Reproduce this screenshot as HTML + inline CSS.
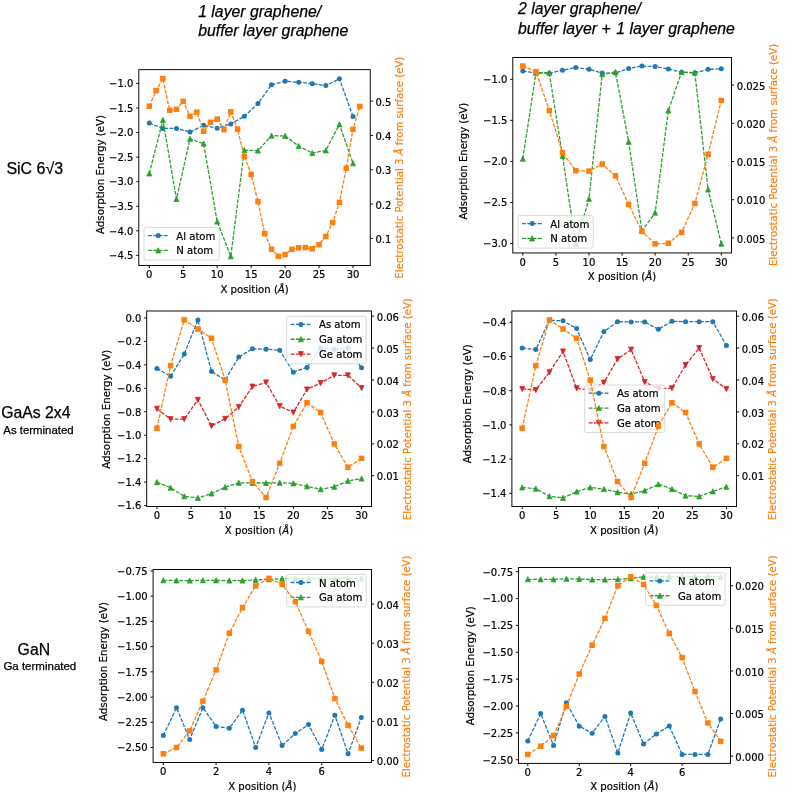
<!DOCTYPE html>
<html lang="en">
<head>
<meta charset="utf-8">
<title>Adsorption energy and electrostatic potential</title>
<style>
html,body{margin:0;padding:0;background:#fff;}
body{width:793px;height:808px;overflow:hidden;}
svg{display:block;}
</style>
</head>
<body>
<svg role="img" aria-label="Adsorption energy and electrostatic potential plots" width="793" height="808" viewBox="0 0 793 808" font-family="'DejaVu Sans', 'Liberation Sans', sans-serif" font-size="10.25" fill="#000">
<style>.mp text{stroke-width:0.2px;stroke:#000} .mp text.or{stroke:#ff7f0e}</style>
<rect width="793" height="808" fill="#fff"/>
<g font-family="'Liberation Sans', Arial, Helvetica, sans-serif" stroke="#000" stroke-width="0.25">
<g font-style="italic" font-size="15.8"><text x="198.2" y="16.9">1 layer graphene/</text><text x="198.2" y="36.1">buffer layer graphene</text>
<text x="518" y="14.1">2 layer graphene/</text><text x="518" y="33.7">buffer layer +<tspan dx="1.3"> 1 layer graphene</tspan></text></g>
<text x="6.4" y="173.6" font-size="16">SiC 6√3</text>
<text x="1.2" y="418.2" font-size="15.8">GaAs 2x4</text>
<text x="3.3" y="433.6" font-size="11.4">As terminated</text>
<text x="17.6" y="654.8" font-size="15.8">GaN</text>
<text x="3.4" y="669.7" font-size="11.5">Ga terminated</text>
</g>
<g class="mp">
<path d="M149.3 123.1 L162.88 128.4 L176.46 128.4 L190.04 132 L203.62 125.3 L217.2 128.2 L230.78 123.9 L244.36 116.3 L257.94 103.6 L271.52 84.8 L285.1 81.3 L298.68 82.2 L312.26 83.7 L325.84 85.6 L339.42 78.75 L353 116.5" fill="none" stroke="#1f77b4" stroke-width="1.3" stroke-dasharray="3.85 1.45"/>
<circle cx="149.3" cy="123.1" r="2.5" fill="#1f77b4"/>
<circle cx="162.88" cy="128.4" r="2.5" fill="#1f77b4"/>
<circle cx="176.46" cy="128.4" r="2.5" fill="#1f77b4"/>
<circle cx="190.04" cy="132" r="2.5" fill="#1f77b4"/>
<circle cx="203.62" cy="125.3" r="2.5" fill="#1f77b4"/>
<circle cx="217.2" cy="128.2" r="2.5" fill="#1f77b4"/>
<circle cx="230.78" cy="123.9" r="2.5" fill="#1f77b4"/>
<circle cx="244.36" cy="116.3" r="2.5" fill="#1f77b4"/>
<circle cx="257.94" cy="103.6" r="2.5" fill="#1f77b4"/>
<circle cx="271.52" cy="84.8" r="2.5" fill="#1f77b4"/>
<circle cx="285.1" cy="81.3" r="2.5" fill="#1f77b4"/>
<circle cx="298.68" cy="82.2" r="2.5" fill="#1f77b4"/>
<circle cx="312.26" cy="83.7" r="2.5" fill="#1f77b4"/>
<circle cx="325.84" cy="85.6" r="2.5" fill="#1f77b4"/>
<circle cx="339.42" cy="78.75" r="2.5" fill="#1f77b4"/>
<circle cx="353" cy="116.5" r="2.5" fill="#1f77b4"/>
<path d="M149.3 173.5 L162.88 120 L176.46 199 L190.04 138.8 L203.62 143.6 L217.2 221.6 L230.78 256.3 L244.36 150.2 L257.94 150.6 L271.52 135.7 L285.1 135.9 L298.68 146.1 L312.26 153.1 L325.84 150.4 L339.42 124.4 L353 163.3" fill="none" stroke="#2ca02c" stroke-width="1.3" stroke-dasharray="3.85 1.45"/>
<polygon points="149.3,170.85 146.8,176 151.8,176" fill="#2ca02c" stroke="#2ca02c" stroke-width="0.8" stroke-linejoin="miter"/>
<polygon points="162.88,117.35 160.38,122.5 165.38,122.5" fill="#2ca02c" stroke="#2ca02c" stroke-width="0.8" stroke-linejoin="miter"/>
<polygon points="176.46,196.35 173.96,201.5 178.96,201.5" fill="#2ca02c" stroke="#2ca02c" stroke-width="0.8" stroke-linejoin="miter"/>
<polygon points="190.04,136.15 187.54,141.3 192.54,141.3" fill="#2ca02c" stroke="#2ca02c" stroke-width="0.8" stroke-linejoin="miter"/>
<polygon points="203.62,140.95 201.12,146.1 206.12,146.1" fill="#2ca02c" stroke="#2ca02c" stroke-width="0.8" stroke-linejoin="miter"/>
<polygon points="217.2,218.95 214.7,224.1 219.7,224.1" fill="#2ca02c" stroke="#2ca02c" stroke-width="0.8" stroke-linejoin="miter"/>
<polygon points="230.78,253.65 228.28,258.8 233.28,258.8" fill="#2ca02c" stroke="#2ca02c" stroke-width="0.8" stroke-linejoin="miter"/>
<polygon points="244.36,147.55 241.86,152.7 246.86,152.7" fill="#2ca02c" stroke="#2ca02c" stroke-width="0.8" stroke-linejoin="miter"/>
<polygon points="257.94,147.95 255.44,153.1 260.44,153.1" fill="#2ca02c" stroke="#2ca02c" stroke-width="0.8" stroke-linejoin="miter"/>
<polygon points="271.52,133.05 269.02,138.2 274.02,138.2" fill="#2ca02c" stroke="#2ca02c" stroke-width="0.8" stroke-linejoin="miter"/>
<polygon points="285.1,133.25 282.6,138.4 287.6,138.4" fill="#2ca02c" stroke="#2ca02c" stroke-width="0.8" stroke-linejoin="miter"/>
<polygon points="298.68,143.45 296.18,148.6 301.18,148.6" fill="#2ca02c" stroke="#2ca02c" stroke-width="0.8" stroke-linejoin="miter"/>
<polygon points="312.26,150.45 309.76,155.6 314.76,155.6" fill="#2ca02c" stroke="#2ca02c" stroke-width="0.8" stroke-linejoin="miter"/>
<polygon points="325.84,147.75 323.34,152.9 328.34,152.9" fill="#2ca02c" stroke="#2ca02c" stroke-width="0.8" stroke-linejoin="miter"/>
<polygon points="339.42,121.75 336.92,126.9 341.92,126.9" fill="#2ca02c" stroke="#2ca02c" stroke-width="0.8" stroke-linejoin="miter"/>
<polygon points="353,160.65 350.5,165.8 355.5,165.8" fill="#2ca02c" stroke="#2ca02c" stroke-width="0.8" stroke-linejoin="miter"/>
<path d="M149.3 265.5v2.6M183.25 265.5v2.6M217.2 265.5v2.6M251.15 265.5v2.6M285.1 265.5v2.6M319.05 265.5v2.6M353 265.5v2.6M138.8 83.4h-2.6M138.8 107.97h-2.6M138.8 132.54h-2.6M138.8 157.11h-2.6M138.8 181.68h-2.6M138.8 206.25h-2.6M138.8 230.82h-2.6M138.8 255.39h-2.6M370.25 101.1h2.6M370.25 135.43h2.6M370.25 169.76h2.6M370.25 204.09h2.6M370.25 238.42h2.6" fill="none" stroke="#000" stroke-width="0.95"/>
<rect x="138.8" y="69.65" width="231.45" height="195.85" fill="none" stroke="#000" stroke-width="0.95"/>
<rect x="144" y="227.4" width="75.2" height="32.65" rx="2" ry="2" fill="#fff" fill-opacity="0.8" stroke="#ccc" stroke-opacity="0.8" stroke-width="0.9"/>
<path d="M148 235.6 H168.4" fill="none" stroke="#1f77b4" stroke-width="1.3" stroke-dasharray="3.85 1.45"/>
<circle cx="158.2" cy="235.6" r="2.5" fill="#1f77b4"/>
<text x="176.3" y="239.6" font-size="10.1">Al atom</text>
<path d="M148 250.45 H168.4" fill="none" stroke="#2ca02c" stroke-width="1.3" stroke-dasharray="3.85 1.45"/>
<polygon points="158.2,247.8 155.7,252.95 160.7,252.95" fill="#2ca02c" stroke="#2ca02c" stroke-width="0.8" stroke-linejoin="miter"/>
<text x="176.3" y="254.45" font-size="10.1">N atom</text>
<path d="M149.3 106.2 L156.09 90.6 L162.88 78.6 L169.67 110.3 L176.46 109.3 L183.25 101.3 L190.04 116.2 L196.83 112.2 L203.62 131.3 L210.41 122.3 L217.2 119.1 L223.99 129.7 L230.78 111.8 L237.57 129.2 L244.36 156.5 L251.15 174.4 L257.94 201.6 L264.73 233.6 L271.52 249.3 L278.31 256.3 L285.1 254.5 L291.89 249.3 L298.68 247.8 L305.47 247.6 L312.26 248.7 L319.05 244.7 L325.84 236.5 L332.63 222.5 L339.42 202.4 L346.21 168.2 L353 129.4 L359.79 106.4" fill="none" stroke="#ff7f0e" stroke-width="1.3" stroke-dasharray="3.85 1.45"/>
<rect x="146.55" y="103.45" width="5.5" height="5.5" fill="#ff7f0e"/>
<rect x="153.34" y="87.85" width="5.5" height="5.5" fill="#ff7f0e"/>
<rect x="160.13" y="75.85" width="5.5" height="5.5" fill="#ff7f0e"/>
<rect x="166.92" y="107.55" width="5.5" height="5.5" fill="#ff7f0e"/>
<rect x="173.71" y="106.55" width="5.5" height="5.5" fill="#ff7f0e"/>
<rect x="180.5" y="98.55" width="5.5" height="5.5" fill="#ff7f0e"/>
<rect x="187.29" y="113.45" width="5.5" height="5.5" fill="#ff7f0e"/>
<rect x="194.08" y="109.45" width="5.5" height="5.5" fill="#ff7f0e"/>
<rect x="200.87" y="128.55" width="5.5" height="5.5" fill="#ff7f0e"/>
<rect x="207.66" y="119.55" width="5.5" height="5.5" fill="#ff7f0e"/>
<rect x="214.45" y="116.35" width="5.5" height="5.5" fill="#ff7f0e"/>
<rect x="221.24" y="126.95" width="5.5" height="5.5" fill="#ff7f0e"/>
<rect x="228.03" y="109.05" width="5.5" height="5.5" fill="#ff7f0e"/>
<rect x="234.82" y="126.45" width="5.5" height="5.5" fill="#ff7f0e"/>
<rect x="241.61" y="153.75" width="5.5" height="5.5" fill="#ff7f0e"/>
<rect x="248.4" y="171.65" width="5.5" height="5.5" fill="#ff7f0e"/>
<rect x="255.19" y="198.85" width="5.5" height="5.5" fill="#ff7f0e"/>
<rect x="261.98" y="230.85" width="5.5" height="5.5" fill="#ff7f0e"/>
<rect x="268.77" y="246.55" width="5.5" height="5.5" fill="#ff7f0e"/>
<rect x="275.56" y="253.55" width="5.5" height="5.5" fill="#ff7f0e"/>
<rect x="282.35" y="251.75" width="5.5" height="5.5" fill="#ff7f0e"/>
<rect x="289.14" y="246.55" width="5.5" height="5.5" fill="#ff7f0e"/>
<rect x="295.93" y="245.05" width="5.5" height="5.5" fill="#ff7f0e"/>
<rect x="302.72" y="244.85" width="5.5" height="5.5" fill="#ff7f0e"/>
<rect x="309.51" y="245.95" width="5.5" height="5.5" fill="#ff7f0e"/>
<rect x="316.3" y="241.95" width="5.5" height="5.5" fill="#ff7f0e"/>
<rect x="323.09" y="233.75" width="5.5" height="5.5" fill="#ff7f0e"/>
<rect x="329.88" y="219.75" width="5.5" height="5.5" fill="#ff7f0e"/>
<rect x="336.67" y="199.65" width="5.5" height="5.5" fill="#ff7f0e"/>
<rect x="343.46" y="165.45" width="5.5" height="5.5" fill="#ff7f0e"/>
<rect x="350.25" y="126.65" width="5.5" height="5.5" fill="#ff7f0e"/>
<rect x="357.04" y="103.65" width="5.5" height="5.5" fill="#ff7f0e"/>
<g text-anchor="middle" font-size="10">
<text x="149.3" y="278.1">0</text>
<text x="183.25" y="278.1">5</text>
<text x="217.2" y="278.1">10</text>
<text x="251.15" y="278.1">15</text>
<text x="285.1" y="278.1">20</text>
<text x="319.05" y="278.1">25</text>
<text x="353" y="278.1">30</text>
</g><g text-anchor="end" font-size="10">
<text x="133.4" y="87.2">−1.0</text>
<text x="133.4" y="111.77">−1.5</text>
<text x="133.4" y="136.34">−2.0</text>
<text x="133.4" y="160.91">−2.5</text>
<text x="133.4" y="185.48">−3.0</text>
<text x="133.4" y="210.05">−3.5</text>
<text x="133.4" y="234.62">−4.0</text>
<text x="133.4" y="259.19">−4.5</text>
</g><g font-size="10">
<text x="375.45" y="105.7">0.5</text>
<text x="375.45" y="140.03">0.4</text>
<text x="375.45" y="174.36">0.3</text>
<text x="375.45" y="208.69">0.2</text>
<text x="375.45" y="243.02">0.1</text>
</g>
<text x="254.6" y="293" text-anchor="middle" font-size="10.13">X position (<tspan font-style="italic">Å</tspan>)</text>
<text transform="translate(104.2 174.45) rotate(-90)" text-anchor="middle" font-size="10.25">Adsorption Energy (eV)</text>
<text transform="translate(403 167.7) rotate(-90)" text-anchor="middle" class="or" font-size="10.15" fill="#ff7f0e">Electrostatic Potential 3 <tspan font-style="italic">Å</tspan> from surface (eV)</text>
</g>
<g class="mp">
<path d="M522.8 71.1 L536.03 73.1 L549.27 73.3 L562.5 70.2 L575.74 67.5 L588.97 69.2 L602.2 73.1 L615.44 73.1 L628.67 68.5 L641.91 66.1 L655.14 66.6 L668.37 68.9 L681.61 72.3 L694.84 72.8 L708.08 69.3 L721.31 68.8" fill="none" stroke="#1f77b4" stroke-width="1.3" stroke-dasharray="3.85 1.45"/>
<circle cx="522.8" cy="71.1" r="2.5" fill="#1f77b4"/>
<circle cx="536.03" cy="73.1" r="2.5" fill="#1f77b4"/>
<circle cx="549.27" cy="73.3" r="2.5" fill="#1f77b4"/>
<circle cx="562.5" cy="70.2" r="2.5" fill="#1f77b4"/>
<circle cx="575.74" cy="67.5" r="2.5" fill="#1f77b4"/>
<circle cx="588.97" cy="69.2" r="2.5" fill="#1f77b4"/>
<circle cx="602.2" cy="73.1" r="2.5" fill="#1f77b4"/>
<circle cx="615.44" cy="73.1" r="2.5" fill="#1f77b4"/>
<circle cx="628.67" cy="68.5" r="2.5" fill="#1f77b4"/>
<circle cx="641.91" cy="66.1" r="2.5" fill="#1f77b4"/>
<circle cx="655.14" cy="66.6" r="2.5" fill="#1f77b4"/>
<circle cx="668.37" cy="68.9" r="2.5" fill="#1f77b4"/>
<circle cx="681.61" cy="72.3" r="2.5" fill="#1f77b4"/>
<circle cx="694.84" cy="72.8" r="2.5" fill="#1f77b4"/>
<circle cx="708.08" cy="69.3" r="2.5" fill="#1f77b4"/>
<circle cx="721.31" cy="68.8" r="2.5" fill="#1f77b4"/>
<path d="M522.8 158.75 L536.03 72.7 L549.27 72.7 L562.5 156.1 L575.74 244.1 L588.97 198.8 L602.2 74.2 L615.44 72.1 L628.67 141.8 L641.91 231 L655.14 212.7 L668.37 110.5 L681.61 72.1 L694.84 72.7 L708.08 189.5 L721.31 243.75" fill="none" stroke="#2ca02c" stroke-width="1.3" stroke-dasharray="3.85 1.45"/>
<polygon points="522.8,156.1 520.3,161.25 525.3,161.25" fill="#2ca02c" stroke="#2ca02c" stroke-width="0.8" stroke-linejoin="miter"/>
<polygon points="536.03,70.05 533.53,75.2 538.53,75.2" fill="#2ca02c" stroke="#2ca02c" stroke-width="0.8" stroke-linejoin="miter"/>
<polygon points="549.27,70.05 546.77,75.2 551.77,75.2" fill="#2ca02c" stroke="#2ca02c" stroke-width="0.8" stroke-linejoin="miter"/>
<polygon points="562.5,153.45 560,158.6 565,158.6" fill="#2ca02c" stroke="#2ca02c" stroke-width="0.8" stroke-linejoin="miter"/>
<polygon points="575.74,241.45 573.24,246.6 578.24,246.6" fill="#2ca02c" stroke="#2ca02c" stroke-width="0.8" stroke-linejoin="miter"/>
<polygon points="588.97,196.15 586.47,201.3 591.47,201.3" fill="#2ca02c" stroke="#2ca02c" stroke-width="0.8" stroke-linejoin="miter"/>
<polygon points="602.2,71.55 599.7,76.7 604.7,76.7" fill="#2ca02c" stroke="#2ca02c" stroke-width="0.8" stroke-linejoin="miter"/>
<polygon points="615.44,69.45 612.94,74.6 617.94,74.6" fill="#2ca02c" stroke="#2ca02c" stroke-width="0.8" stroke-linejoin="miter"/>
<polygon points="628.67,139.15 626.17,144.3 631.17,144.3" fill="#2ca02c" stroke="#2ca02c" stroke-width="0.8" stroke-linejoin="miter"/>
<polygon points="641.91,228.35 639.41,233.5 644.41,233.5" fill="#2ca02c" stroke="#2ca02c" stroke-width="0.8" stroke-linejoin="miter"/>
<polygon points="655.14,210.05 652.64,215.2 657.64,215.2" fill="#2ca02c" stroke="#2ca02c" stroke-width="0.8" stroke-linejoin="miter"/>
<polygon points="668.37,107.85 665.87,113 670.87,113" fill="#2ca02c" stroke="#2ca02c" stroke-width="0.8" stroke-linejoin="miter"/>
<polygon points="681.61,69.45 679.11,74.6 684.11,74.6" fill="#2ca02c" stroke="#2ca02c" stroke-width="0.8" stroke-linejoin="miter"/>
<polygon points="694.84,70.05 692.34,75.2 697.34,75.2" fill="#2ca02c" stroke="#2ca02c" stroke-width="0.8" stroke-linejoin="miter"/>
<polygon points="708.08,186.85 705.58,192 710.58,192" fill="#2ca02c" stroke="#2ca02c" stroke-width="0.8" stroke-linejoin="miter"/>
<polygon points="721.31,241.1 718.81,246.25 723.81,246.25" fill="#2ca02c" stroke="#2ca02c" stroke-width="0.8" stroke-linejoin="miter"/>
<path d="M522.8 252.95v2.6M555.88 252.95v2.6M588.97 252.95v2.6M622.05 252.95v2.6M655.14 252.95v2.6M688.22 252.95v2.6M721.31 252.95v2.6M512.8 79.3h-2.6M512.8 120.35h-2.6M512.8 161.4h-2.6M512.8 202.45h-2.6M512.8 243.5h-2.6M731.5 85.1h2.6M731.5 123.3h2.6M731.5 161.5h2.6M731.5 199.7h2.6M731.5 237.9h2.6" fill="none" stroke="#000" stroke-width="0.95"/>
<rect x="512.8" y="57.5" width="218.7" height="195.45" fill="none" stroke="#000" stroke-width="0.95"/>
<rect x="518" y="215.4" width="75.2" height="32.65" rx="2" ry="2" fill="#fff" fill-opacity="0.8" stroke="#ccc" stroke-opacity="0.8" stroke-width="0.9"/>
<path d="M522 223.6 H542.4" fill="none" stroke="#1f77b4" stroke-width="1.3" stroke-dasharray="3.85 1.45"/>
<circle cx="532.2" cy="223.6" r="2.5" fill="#1f77b4"/>
<text x="550.3" y="227.6" font-size="10.1">Al atom</text>
<path d="M522 238.45 H542.4" fill="none" stroke="#2ca02c" stroke-width="1.3" stroke-dasharray="3.85 1.45"/>
<polygon points="532.2,235.8 529.7,240.95 534.7,240.95" fill="#2ca02c" stroke="#2ca02c" stroke-width="0.8" stroke-linejoin="miter"/>
<text x="550.3" y="242.45" font-size="10.1">N atom</text>
<path d="M522.8 66.1 L536.03 71.7 L549.27 110.5 L562.5 152.7 L575.74 170.6 L588.97 171.1 L602.2 164 L615.44 175.8 L628.67 204.4 L641.91 231.3 L655.14 243.9 L668.37 243.25 L681.61 232.4 L694.84 203.5 L708.08 154.3 L721.31 100.4" fill="none" stroke="#ff7f0e" stroke-width="1.3" stroke-dasharray="3.85 1.45"/>
<rect x="520.05" y="63.35" width="5.5" height="5.5" fill="#ff7f0e"/>
<rect x="533.28" y="68.95" width="5.5" height="5.5" fill="#ff7f0e"/>
<rect x="546.52" y="107.75" width="5.5" height="5.5" fill="#ff7f0e"/>
<rect x="559.75" y="149.95" width="5.5" height="5.5" fill="#ff7f0e"/>
<rect x="572.99" y="167.85" width="5.5" height="5.5" fill="#ff7f0e"/>
<rect x="586.22" y="168.35" width="5.5" height="5.5" fill="#ff7f0e"/>
<rect x="599.45" y="161.25" width="5.5" height="5.5" fill="#ff7f0e"/>
<rect x="612.69" y="173.05" width="5.5" height="5.5" fill="#ff7f0e"/>
<rect x="625.92" y="201.65" width="5.5" height="5.5" fill="#ff7f0e"/>
<rect x="639.16" y="228.55" width="5.5" height="5.5" fill="#ff7f0e"/>
<rect x="652.39" y="241.15" width="5.5" height="5.5" fill="#ff7f0e"/>
<rect x="665.62" y="240.5" width="5.5" height="5.5" fill="#ff7f0e"/>
<rect x="678.86" y="229.65" width="5.5" height="5.5" fill="#ff7f0e"/>
<rect x="692.09" y="200.75" width="5.5" height="5.5" fill="#ff7f0e"/>
<rect x="705.33" y="151.55" width="5.5" height="5.5" fill="#ff7f0e"/>
<rect x="718.56" y="97.65" width="5.5" height="5.5" fill="#ff7f0e"/>
<g text-anchor="middle" font-size="10">
<text x="522.8" y="265.55">0</text>
<text x="555.88" y="265.55">5</text>
<text x="588.97" y="265.55">10</text>
<text x="622.05" y="265.55">15</text>
<text x="655.14" y="265.55">20</text>
<text x="688.22" y="265.55">25</text>
<text x="721.31" y="265.55">30</text>
</g><g text-anchor="end" font-size="10">
<text x="507.4" y="83.1">−1.0</text>
<text x="507.4" y="124.15">−1.5</text>
<text x="507.4" y="165.2">−2.0</text>
<text x="507.4" y="206.25">−2.5</text>
<text x="507.4" y="247.3">−3.0</text>
</g><g font-size="10">
<text x="736.7" y="89.7">0.025</text>
<text x="736.7" y="127.9">0.020</text>
<text x="736.7" y="166.1">0.015</text>
<text x="736.7" y="204.3">0.010</text>
<text x="736.7" y="242.5">0.005</text>
</g>
<text x="622" y="279.9" text-anchor="middle" font-size="10.13">X position (<tspan font-style="italic">Å</tspan>)</text>
<text transform="translate(467.2 161.1) rotate(-90)" text-anchor="middle" font-size="10.06">Adsorption Energy (eV)</text>
<text transform="translate(777.1 154.9) rotate(-90)" text-anchor="middle" class="or" font-size="10.15" fill="#ff7f0e">Electrostatic Potential 3 <tspan font-style="italic">Å</tspan> from surface (eV)</text>
</g>
<g class="mp">
<path d="M156.95 368.4 L170.59 376.3 L184.23 354 L197.87 320 L211.51 371.5 L225.15 380 L238.79 357 L252.43 348.85 L266.07 349.2 L279.71 350.2 L293.35 372.2 L306.99 367.5 L320.63 348 L334.27 349.2 L347.91 348 L361.55 367.8" fill="none" stroke="#1f77b4" stroke-width="1.3" stroke-dasharray="3.85 1.45"/>
<circle cx="156.95" cy="368.4" r="2.5" fill="#1f77b4"/>
<circle cx="170.59" cy="376.3" r="2.5" fill="#1f77b4"/>
<circle cx="184.23" cy="354" r="2.5" fill="#1f77b4"/>
<circle cx="197.87" cy="320" r="2.5" fill="#1f77b4"/>
<circle cx="211.51" cy="371.5" r="2.5" fill="#1f77b4"/>
<circle cx="225.15" cy="380" r="2.5" fill="#1f77b4"/>
<circle cx="238.79" cy="357" r="2.5" fill="#1f77b4"/>
<circle cx="252.43" cy="348.85" r="2.5" fill="#1f77b4"/>
<circle cx="266.07" cy="349.2" r="2.5" fill="#1f77b4"/>
<circle cx="279.71" cy="350.2" r="2.5" fill="#1f77b4"/>
<circle cx="293.35" cy="372.2" r="2.5" fill="#1f77b4"/>
<circle cx="306.99" cy="367.5" r="2.5" fill="#1f77b4"/>
<circle cx="320.63" cy="348" r="2.5" fill="#1f77b4"/>
<circle cx="334.27" cy="349.2" r="2.5" fill="#1f77b4"/>
<circle cx="347.91" cy="348" r="2.5" fill="#1f77b4"/>
<circle cx="361.55" cy="367.8" r="2.5" fill="#1f77b4"/>
<path d="M156.95 482.15 L170.59 487.8 L184.23 496.3 L197.87 497.9 L211.51 493.5 L225.15 487.2 L238.79 482.8 L252.43 483 L266.07 483 L279.71 482.8 L293.35 483.4 L306.99 486.3 L320.63 489.3 L334.27 486.8 L347.91 480.9 L361.55 478.6" fill="none" stroke="#2ca02c" stroke-width="1.3" stroke-dasharray="3.85 1.45"/>
<polygon points="156.95,479.5 154.45,484.65 159.45,484.65" fill="#2ca02c" stroke="#2ca02c" stroke-width="0.8" stroke-linejoin="miter"/>
<polygon points="170.59,485.15 168.09,490.3 173.09,490.3" fill="#2ca02c" stroke="#2ca02c" stroke-width="0.8" stroke-linejoin="miter"/>
<polygon points="184.23,493.65 181.73,498.8 186.73,498.8" fill="#2ca02c" stroke="#2ca02c" stroke-width="0.8" stroke-linejoin="miter"/>
<polygon points="197.87,495.25 195.37,500.4 200.37,500.4" fill="#2ca02c" stroke="#2ca02c" stroke-width="0.8" stroke-linejoin="miter"/>
<polygon points="211.51,490.85 209.01,496 214.01,496" fill="#2ca02c" stroke="#2ca02c" stroke-width="0.8" stroke-linejoin="miter"/>
<polygon points="225.15,484.55 222.65,489.7 227.65,489.7" fill="#2ca02c" stroke="#2ca02c" stroke-width="0.8" stroke-linejoin="miter"/>
<polygon points="238.79,480.15 236.29,485.3 241.29,485.3" fill="#2ca02c" stroke="#2ca02c" stroke-width="0.8" stroke-linejoin="miter"/>
<polygon points="252.43,480.35 249.93,485.5 254.93,485.5" fill="#2ca02c" stroke="#2ca02c" stroke-width="0.8" stroke-linejoin="miter"/>
<polygon points="266.07,480.35 263.57,485.5 268.57,485.5" fill="#2ca02c" stroke="#2ca02c" stroke-width="0.8" stroke-linejoin="miter"/>
<polygon points="279.71,480.15 277.21,485.3 282.21,485.3" fill="#2ca02c" stroke="#2ca02c" stroke-width="0.8" stroke-linejoin="miter"/>
<polygon points="293.35,480.75 290.85,485.9 295.85,485.9" fill="#2ca02c" stroke="#2ca02c" stroke-width="0.8" stroke-linejoin="miter"/>
<polygon points="306.99,483.65 304.49,488.8 309.49,488.8" fill="#2ca02c" stroke="#2ca02c" stroke-width="0.8" stroke-linejoin="miter"/>
<polygon points="320.63,486.65 318.13,491.8 323.13,491.8" fill="#2ca02c" stroke="#2ca02c" stroke-width="0.8" stroke-linejoin="miter"/>
<polygon points="334.27,484.15 331.77,489.3 336.77,489.3" fill="#2ca02c" stroke="#2ca02c" stroke-width="0.8" stroke-linejoin="miter"/>
<polygon points="347.91,478.25 345.41,483.4 350.41,483.4" fill="#2ca02c" stroke="#2ca02c" stroke-width="0.8" stroke-linejoin="miter"/>
<polygon points="361.55,475.95 359.05,481.1 364.05,481.1" fill="#2ca02c" stroke="#2ca02c" stroke-width="0.8" stroke-linejoin="miter"/>
<path d="M156.95 408.75 L170.59 419.1 L184.23 419.1 L197.87 399.8 L211.51 426 L225.15 418.8 L238.79 406.9 L252.43 386.6 L266.07 382.4 L279.71 406.1 L293.35 412.4 L306.99 389.4 L320.63 383 L334.27 375.3 L347.91 375.3 L361.55 388" fill="none" stroke="#d62728" stroke-width="1.3" stroke-dasharray="3.85 1.45"/>
<polygon points="156.95,411.4 154.45,406.25 159.45,406.25" fill="#d62728" stroke="#d62728" stroke-width="0.8" stroke-linejoin="miter"/>
<polygon points="170.59,421.75 168.09,416.6 173.09,416.6" fill="#d62728" stroke="#d62728" stroke-width="0.8" stroke-linejoin="miter"/>
<polygon points="184.23,421.75 181.73,416.6 186.73,416.6" fill="#d62728" stroke="#d62728" stroke-width="0.8" stroke-linejoin="miter"/>
<polygon points="197.87,402.45 195.37,397.3 200.37,397.3" fill="#d62728" stroke="#d62728" stroke-width="0.8" stroke-linejoin="miter"/>
<polygon points="211.51,428.65 209.01,423.5 214.01,423.5" fill="#d62728" stroke="#d62728" stroke-width="0.8" stroke-linejoin="miter"/>
<polygon points="225.15,421.45 222.65,416.3 227.65,416.3" fill="#d62728" stroke="#d62728" stroke-width="0.8" stroke-linejoin="miter"/>
<polygon points="238.79,409.55 236.29,404.4 241.29,404.4" fill="#d62728" stroke="#d62728" stroke-width="0.8" stroke-linejoin="miter"/>
<polygon points="252.43,389.25 249.93,384.1 254.93,384.1" fill="#d62728" stroke="#d62728" stroke-width="0.8" stroke-linejoin="miter"/>
<polygon points="266.07,385.05 263.57,379.9 268.57,379.9" fill="#d62728" stroke="#d62728" stroke-width="0.8" stroke-linejoin="miter"/>
<polygon points="279.71,408.75 277.21,403.6 282.21,403.6" fill="#d62728" stroke="#d62728" stroke-width="0.8" stroke-linejoin="miter"/>
<polygon points="293.35,415.05 290.85,409.9 295.85,409.9" fill="#d62728" stroke="#d62728" stroke-width="0.8" stroke-linejoin="miter"/>
<polygon points="306.99,392.05 304.49,386.9 309.49,386.9" fill="#d62728" stroke="#d62728" stroke-width="0.8" stroke-linejoin="miter"/>
<polygon points="320.63,385.65 318.13,380.5 323.13,380.5" fill="#d62728" stroke="#d62728" stroke-width="0.8" stroke-linejoin="miter"/>
<polygon points="334.27,377.95 331.77,372.8 336.77,372.8" fill="#d62728" stroke="#d62728" stroke-width="0.8" stroke-linejoin="miter"/>
<polygon points="347.91,377.95 345.41,372.8 350.41,372.8" fill="#d62728" stroke="#d62728" stroke-width="0.8" stroke-linejoin="miter"/>
<polygon points="361.55,390.65 359.05,385.5 364.05,385.5" fill="#d62728" stroke="#d62728" stroke-width="0.8" stroke-linejoin="miter"/>
<path d="M156.95 506.5v2.6M191.05 506.5v2.6M225.15 506.5v2.6M259.25 506.5v2.6M293.35 506.5v2.6M327.45 506.5v2.6M361.55 506.5v2.6M146.7 317.95h-2.6M146.7 341.4h-2.6M146.7 364.85h-2.6M146.7 388.3h-2.6M146.7 411.75h-2.6M146.7 435.2h-2.6M146.7 458.65h-2.6M146.7 482.1h-2.6M146.7 505.55h-2.6M371.5 316.2h2.6M371.5 348.1h2.6M371.5 380h2.6M371.5 411.9h2.6M371.5 443.8h2.6M371.5 475.7h2.6" fill="none" stroke="#000" stroke-width="0.95"/>
<rect x="146.7" y="311" width="224.8" height="195.5" fill="none" stroke="#000" stroke-width="0.95"/>
<rect x="286.7" y="316.2" width="79.5" height="47.5" rx="2" ry="2" fill="#fff" fill-opacity="0.8" stroke="#ccc" stroke-opacity="0.8" stroke-width="0.9"/>
<path d="M290.7 324.4 H311.1" fill="none" stroke="#1f77b4" stroke-width="1.3" stroke-dasharray="3.85 1.45"/>
<circle cx="300.9" cy="324.4" r="2.5" fill="#1f77b4"/>
<text x="319" y="328.4" font-size="10.1">As atom</text>
<path d="M290.7 339.25 H311.1" fill="none" stroke="#2ca02c" stroke-width="1.3" stroke-dasharray="3.85 1.45"/>
<polygon points="300.9,336.6 298.4,341.75 303.4,341.75" fill="#2ca02c" stroke="#2ca02c" stroke-width="0.8" stroke-linejoin="miter"/>
<text x="319" y="343.25" font-size="10.1">Ga atom</text>
<path d="M290.7 354.1 H311.1" fill="none" stroke="#d62728" stroke-width="1.3" stroke-dasharray="3.85 1.45"/>
<polygon points="300.9,356.75 298.4,351.6 303.4,351.6" fill="#d62728" stroke="#d62728" stroke-width="0.8" stroke-linejoin="miter"/>
<text x="319" y="358.1" font-size="10.1">Ge atom</text>
<path d="M156.95 428.2 L170.59 365.7 L184.23 319.9 L197.87 329.05 L211.51 338.25 L225.15 380.1 L238.79 446.5 L252.43 481.5 L266.07 497.5 L279.71 463.2 L293.35 426.3 L306.99 402.7 L320.63 412.5 L334.27 443.9 L347.91 467.3 L361.55 458.3" fill="none" stroke="#ff7f0e" stroke-width="1.3" stroke-dasharray="3.85 1.45"/>
<rect x="154.2" y="425.45" width="5.5" height="5.5" fill="#ff7f0e"/>
<rect x="167.84" y="362.95" width="5.5" height="5.5" fill="#ff7f0e"/>
<rect x="181.48" y="317.15" width="5.5" height="5.5" fill="#ff7f0e"/>
<rect x="195.12" y="326.3" width="5.5" height="5.5" fill="#ff7f0e"/>
<rect x="208.76" y="335.5" width="5.5" height="5.5" fill="#ff7f0e"/>
<rect x="222.4" y="377.35" width="5.5" height="5.5" fill="#ff7f0e"/>
<rect x="236.04" y="443.75" width="5.5" height="5.5" fill="#ff7f0e"/>
<rect x="249.68" y="478.75" width="5.5" height="5.5" fill="#ff7f0e"/>
<rect x="263.32" y="494.75" width="5.5" height="5.5" fill="#ff7f0e"/>
<rect x="276.96" y="460.45" width="5.5" height="5.5" fill="#ff7f0e"/>
<rect x="290.6" y="423.55" width="5.5" height="5.5" fill="#ff7f0e"/>
<rect x="304.24" y="399.95" width="5.5" height="5.5" fill="#ff7f0e"/>
<rect x="317.88" y="409.75" width="5.5" height="5.5" fill="#ff7f0e"/>
<rect x="331.52" y="441.15" width="5.5" height="5.5" fill="#ff7f0e"/>
<rect x="345.16" y="464.55" width="5.5" height="5.5" fill="#ff7f0e"/>
<rect x="358.8" y="455.55" width="5.5" height="5.5" fill="#ff7f0e"/>
<g text-anchor="middle" font-size="10">
<text x="156.95" y="519.1">0</text>
<text x="191.05" y="519.1">5</text>
<text x="225.15" y="519.1">10</text>
<text x="259.25" y="519.1">15</text>
<text x="293.35" y="519.1">20</text>
<text x="327.45" y="519.1">25</text>
<text x="361.55" y="519.1">30</text>
</g><g text-anchor="end" font-size="10">
<text x="141.3" y="321.75">0.0</text>
<text x="141.3" y="345.2">−0.2</text>
<text x="141.3" y="368.65">−0.4</text>
<text x="141.3" y="392.1">−0.6</text>
<text x="141.3" y="415.55">−0.8</text>
<text x="141.3" y="439">−1.0</text>
<text x="141.3" y="462.45">−1.2</text>
<text x="141.3" y="485.9">−1.4</text>
<text x="141.3" y="509.35">−1.6</text>
</g><g font-size="10">
<text x="376.7" y="320.8">0.06</text>
<text x="376.7" y="352.7">0.05</text>
<text x="376.7" y="384.6">0.04</text>
<text x="376.7" y="416.5">0.03</text>
<text x="376.7" y="448.4">0.02</text>
<text x="376.7" y="480.3">0.01</text>
</g>
<text x="259" y="533.6" text-anchor="middle" font-size="10.13">X position (<tspan font-style="italic">Å</tspan>)</text>
<text transform="translate(109.6 409.3) rotate(-90)" text-anchor="middle" font-size="10.25">Adsorption Energy (eV)</text>
<text transform="translate(410.5 409.2) rotate(-90)" text-anchor="middle" class="or" font-size="10.15" fill="#ff7f0e">Electrostatic Potential 3 <tspan font-style="italic">Å</tspan> from surface (eV)</text>
</g>
<g class="mp">
<path d="M522.2 348 L535.81 349.6 L549.43 320.2 L563.04 320.85 L576.66 328.5 L590.27 359.6 L603.88 331.6 L617.5 321.7 L631.11 321.9 L644.73 321.9 L658.34 329.3 L671.95 321.3 L685.57 321.7 L699.18 321.7 L712.8 321.7 L726.41 345.4" fill="none" stroke="#1f77b4" stroke-width="1.3" stroke-dasharray="3.85 1.45"/>
<circle cx="522.2" cy="348" r="2.5" fill="#1f77b4"/>
<circle cx="535.81" cy="349.6" r="2.5" fill="#1f77b4"/>
<circle cx="549.43" cy="320.2" r="2.5" fill="#1f77b4"/>
<circle cx="563.04" cy="320.85" r="2.5" fill="#1f77b4"/>
<circle cx="576.66" cy="328.5" r="2.5" fill="#1f77b4"/>
<circle cx="590.27" cy="359.6" r="2.5" fill="#1f77b4"/>
<circle cx="603.88" cy="331.6" r="2.5" fill="#1f77b4"/>
<circle cx="617.5" cy="321.7" r="2.5" fill="#1f77b4"/>
<circle cx="631.11" cy="321.9" r="2.5" fill="#1f77b4"/>
<circle cx="644.73" cy="321.9" r="2.5" fill="#1f77b4"/>
<circle cx="658.34" cy="329.3" r="2.5" fill="#1f77b4"/>
<circle cx="671.95" cy="321.3" r="2.5" fill="#1f77b4"/>
<circle cx="685.57" cy="321.7" r="2.5" fill="#1f77b4"/>
<circle cx="699.18" cy="321.7" r="2.5" fill="#1f77b4"/>
<circle cx="712.8" cy="321.7" r="2.5" fill="#1f77b4"/>
<circle cx="726.41" cy="345.4" r="2.5" fill="#1f77b4"/>
<path d="M522.2 487.45 L535.81 488.7 L549.43 496.3 L563.04 497.9 L576.66 491.6 L590.27 487.45 L603.88 489.1 L617.5 492.2 L631.11 494.1 L644.73 490.6 L658.34 484.3 L671.95 489.1 L685.57 495.65 L699.18 496.4 L712.8 491.4 L726.41 486.8" fill="none" stroke="#2ca02c" stroke-width="1.3" stroke-dasharray="3.85 1.45"/>
<polygon points="522.2,484.8 519.7,489.95 524.7,489.95" fill="#2ca02c" stroke="#2ca02c" stroke-width="0.8" stroke-linejoin="miter"/>
<polygon points="535.81,486.05 533.31,491.2 538.31,491.2" fill="#2ca02c" stroke="#2ca02c" stroke-width="0.8" stroke-linejoin="miter"/>
<polygon points="549.43,493.65 546.93,498.8 551.93,498.8" fill="#2ca02c" stroke="#2ca02c" stroke-width="0.8" stroke-linejoin="miter"/>
<polygon points="563.04,495.25 560.54,500.4 565.54,500.4" fill="#2ca02c" stroke="#2ca02c" stroke-width="0.8" stroke-linejoin="miter"/>
<polygon points="576.66,488.95 574.16,494.1 579.16,494.1" fill="#2ca02c" stroke="#2ca02c" stroke-width="0.8" stroke-linejoin="miter"/>
<polygon points="590.27,484.8 587.77,489.95 592.77,489.95" fill="#2ca02c" stroke="#2ca02c" stroke-width="0.8" stroke-linejoin="miter"/>
<polygon points="603.88,486.45 601.38,491.6 606.38,491.6" fill="#2ca02c" stroke="#2ca02c" stroke-width="0.8" stroke-linejoin="miter"/>
<polygon points="617.5,489.55 615,494.7 620,494.7" fill="#2ca02c" stroke="#2ca02c" stroke-width="0.8" stroke-linejoin="miter"/>
<polygon points="631.11,491.45 628.61,496.6 633.61,496.6" fill="#2ca02c" stroke="#2ca02c" stroke-width="0.8" stroke-linejoin="miter"/>
<polygon points="644.73,487.95 642.23,493.1 647.23,493.1" fill="#2ca02c" stroke="#2ca02c" stroke-width="0.8" stroke-linejoin="miter"/>
<polygon points="658.34,481.65 655.84,486.8 660.84,486.8" fill="#2ca02c" stroke="#2ca02c" stroke-width="0.8" stroke-linejoin="miter"/>
<polygon points="671.95,486.45 669.45,491.6 674.45,491.6" fill="#2ca02c" stroke="#2ca02c" stroke-width="0.8" stroke-linejoin="miter"/>
<polygon points="685.57,493 683.07,498.15 688.07,498.15" fill="#2ca02c" stroke="#2ca02c" stroke-width="0.8" stroke-linejoin="miter"/>
<polygon points="699.18,493.75 696.68,498.9 701.68,498.9" fill="#2ca02c" stroke="#2ca02c" stroke-width="0.8" stroke-linejoin="miter"/>
<polygon points="712.8,488.75 710.3,493.9 715.3,493.9" fill="#2ca02c" stroke="#2ca02c" stroke-width="0.8" stroke-linejoin="miter"/>
<polygon points="726.41,484.15 723.91,489.3 728.91,489.3" fill="#2ca02c" stroke="#2ca02c" stroke-width="0.8" stroke-linejoin="miter"/>
<path d="M522.2 388.9 L535.81 390 L549.43 372.3 L563.04 351.4 L576.66 388.3 L590.27 390.2 L603.88 382.6 L617.5 359.1 L631.11 349.6 L644.73 382 L658.34 388.9 L671.95 388.2 L685.57 365 L699.18 348 L712.8 378.9 L726.41 388.9" fill="none" stroke="#d62728" stroke-width="1.3" stroke-dasharray="3.85 1.45"/>
<polygon points="522.2,391.55 519.7,386.4 524.7,386.4" fill="#d62728" stroke="#d62728" stroke-width="0.8" stroke-linejoin="miter"/>
<polygon points="535.81,392.65 533.31,387.5 538.31,387.5" fill="#d62728" stroke="#d62728" stroke-width="0.8" stroke-linejoin="miter"/>
<polygon points="549.43,374.95 546.93,369.8 551.93,369.8" fill="#d62728" stroke="#d62728" stroke-width="0.8" stroke-linejoin="miter"/>
<polygon points="563.04,354.05 560.54,348.9 565.54,348.9" fill="#d62728" stroke="#d62728" stroke-width="0.8" stroke-linejoin="miter"/>
<polygon points="576.66,390.95 574.16,385.8 579.16,385.8" fill="#d62728" stroke="#d62728" stroke-width="0.8" stroke-linejoin="miter"/>
<polygon points="590.27,392.85 587.77,387.7 592.77,387.7" fill="#d62728" stroke="#d62728" stroke-width="0.8" stroke-linejoin="miter"/>
<polygon points="603.88,385.25 601.38,380.1 606.38,380.1" fill="#d62728" stroke="#d62728" stroke-width="0.8" stroke-linejoin="miter"/>
<polygon points="617.5,361.75 615,356.6 620,356.6" fill="#d62728" stroke="#d62728" stroke-width="0.8" stroke-linejoin="miter"/>
<polygon points="631.11,352.25 628.61,347.1 633.61,347.1" fill="#d62728" stroke="#d62728" stroke-width="0.8" stroke-linejoin="miter"/>
<polygon points="644.73,384.65 642.23,379.5 647.23,379.5" fill="#d62728" stroke="#d62728" stroke-width="0.8" stroke-linejoin="miter"/>
<polygon points="658.34,391.55 655.84,386.4 660.84,386.4" fill="#d62728" stroke="#d62728" stroke-width="0.8" stroke-linejoin="miter"/>
<polygon points="671.95,390.85 669.45,385.7 674.45,385.7" fill="#d62728" stroke="#d62728" stroke-width="0.8" stroke-linejoin="miter"/>
<polygon points="685.57,367.65 683.07,362.5 688.07,362.5" fill="#d62728" stroke="#d62728" stroke-width="0.8" stroke-linejoin="miter"/>
<polygon points="699.18,350.65 696.68,345.5 701.68,345.5" fill="#d62728" stroke="#d62728" stroke-width="0.8" stroke-linejoin="miter"/>
<polygon points="712.8,381.55 710.3,376.4 715.3,376.4" fill="#d62728" stroke="#d62728" stroke-width="0.8" stroke-linejoin="miter"/>
<polygon points="726.41,391.55 723.91,386.4 728.91,386.4" fill="#d62728" stroke="#d62728" stroke-width="0.8" stroke-linejoin="miter"/>
<path d="M522.2 506.5v2.6M556.24 506.5v2.6M590.27 506.5v2.6M624.31 506.5v2.6M658.34 506.5v2.6M692.38 506.5v2.6M726.41 506.5v2.6M511.9 322.3h-2.6M511.9 356.5h-2.6M511.9 390.7h-2.6M511.9 424.9h-2.6M511.9 459.1h-2.6M511.9 493.3h-2.6M736.55 316.2h2.6M736.55 348.1h2.6M736.55 380h2.6M736.55 411.9h2.6M736.55 443.8h2.6M736.55 475.7h2.6" fill="none" stroke="#000" stroke-width="0.95"/>
<rect x="511.9" y="311" width="224.65" height="195.5" fill="none" stroke="#000" stroke-width="0.95"/>
<rect x="584.7" y="385" width="80" height="47.5" rx="2" ry="2" fill="#fff" fill-opacity="0.8" stroke="#ccc" stroke-opacity="0.8" stroke-width="0.9"/>
<path d="M588.7 393.2 H609.1" fill="none" stroke="#1f77b4" stroke-width="1.3" stroke-dasharray="3.85 1.45"/>
<circle cx="598.9" cy="393.2" r="2.5" fill="#1f77b4"/>
<text x="617" y="397.2" font-size="10.15">As atom</text>
<path d="M588.7 408.05 H609.1" fill="none" stroke="#2ca02c" stroke-width="1.3" stroke-dasharray="3.85 1.45"/>
<polygon points="598.9,405.4 596.4,410.55 601.4,410.55" fill="#2ca02c" stroke="#2ca02c" stroke-width="0.8" stroke-linejoin="miter"/>
<text x="617" y="412.05" font-size="10.15">Ga atom</text>
<path d="M588.7 422.9 H609.1" fill="none" stroke="#d62728" stroke-width="1.3" stroke-dasharray="3.85 1.45"/>
<polygon points="598.9,425.55 596.4,420.4 601.4,420.4" fill="#d62728" stroke="#d62728" stroke-width="0.8" stroke-linejoin="miter"/>
<text x="617" y="426.9" font-size="10.15">Ge atom</text>
<path d="M522.2 428.2 L535.81 365.7 L549.43 319.9 L563.04 329.05 L576.66 338.25 L590.27 380.1 L603.88 446.5 L617.5 481.5 L631.11 497.5 L644.73 463.2 L658.34 426.3 L671.95 402.7 L685.57 412.5 L699.18 443.9 L712.8 467.3 L726.41 458.3" fill="none" stroke="#ff7f0e" stroke-width="1.3" stroke-dasharray="3.85 1.45"/>
<rect x="519.45" y="425.45" width="5.5" height="5.5" fill="#ff7f0e"/>
<rect x="533.06" y="362.95" width="5.5" height="5.5" fill="#ff7f0e"/>
<rect x="546.68" y="317.15" width="5.5" height="5.5" fill="#ff7f0e"/>
<rect x="560.29" y="326.3" width="5.5" height="5.5" fill="#ff7f0e"/>
<rect x="573.91" y="335.5" width="5.5" height="5.5" fill="#ff7f0e"/>
<rect x="587.52" y="377.35" width="5.5" height="5.5" fill="#ff7f0e"/>
<rect x="601.13" y="443.75" width="5.5" height="5.5" fill="#ff7f0e"/>
<rect x="614.75" y="478.75" width="5.5" height="5.5" fill="#ff7f0e"/>
<rect x="628.36" y="494.75" width="5.5" height="5.5" fill="#ff7f0e"/>
<rect x="641.98" y="460.45" width="5.5" height="5.5" fill="#ff7f0e"/>
<rect x="655.59" y="423.55" width="5.5" height="5.5" fill="#ff7f0e"/>
<rect x="669.2" y="399.95" width="5.5" height="5.5" fill="#ff7f0e"/>
<rect x="682.82" y="409.75" width="5.5" height="5.5" fill="#ff7f0e"/>
<rect x="696.43" y="441.15" width="5.5" height="5.5" fill="#ff7f0e"/>
<rect x="710.05" y="464.55" width="5.5" height="5.5" fill="#ff7f0e"/>
<rect x="723.66" y="455.55" width="5.5" height="5.5" fill="#ff7f0e"/>
<g text-anchor="middle" font-size="10">
<text x="522.2" y="519.1">0</text>
<text x="556.24" y="519.1">5</text>
<text x="590.27" y="519.1">10</text>
<text x="624.31" y="519.1">15</text>
<text x="658.34" y="519.1">20</text>
<text x="692.38" y="519.1">25</text>
<text x="726.41" y="519.1">30</text>
</g><g text-anchor="end" font-size="10">
<text x="506.5" y="326.1">−0.4</text>
<text x="506.5" y="360.3">−0.6</text>
<text x="506.5" y="394.5">−0.8</text>
<text x="506.5" y="428.7">−1.0</text>
<text x="506.5" y="462.9">−1.2</text>
<text x="506.5" y="497.1">−1.4</text>
</g><g font-size="10">
<text x="741.75" y="320.8">0.06</text>
<text x="741.75" y="352.7">0.05</text>
<text x="741.75" y="384.6">0.04</text>
<text x="741.75" y="416.5">0.03</text>
<text x="741.75" y="448.4">0.02</text>
<text x="741.75" y="480.3">0.01</text>
</g>
<text x="624.2" y="533.6" text-anchor="middle" font-size="10.13">X position (<tspan font-style="italic">Å</tspan>)</text>
<text transform="translate(471 403.7) rotate(-90)" text-anchor="middle" font-size="10.25">Adsorption Energy (eV)</text>
<text transform="translate(775.5 409.2) rotate(-90)" text-anchor="middle" class="or" font-size="10.15" fill="#ff7f0e">Electrostatic Potential 3 <tspan font-style="italic">Å</tspan> from surface (eV)</text>
</g>
<g class="mp">
<path d="M163.3 735.5 L176.5 707.7 L189.7 739.5 L202.9 707.7 L216.1 726.4 L229.3 728.3 L242.5 710.2 L255.7 747.5 L268.9 712.9 L282.1 745.45 L295.3 733.6 L308.5 724.6 L321.7 749.4 L334.9 715.3 L348.1 753.8 L361.3 717.6" fill="none" stroke="#1f77b4" stroke-width="1.3" stroke-dasharray="3.85 1.45"/>
<circle cx="163.3" cy="735.5" r="2.5" fill="#1f77b4"/>
<circle cx="176.5" cy="707.7" r="2.5" fill="#1f77b4"/>
<circle cx="189.7" cy="739.5" r="2.5" fill="#1f77b4"/>
<circle cx="202.9" cy="707.7" r="2.5" fill="#1f77b4"/>
<circle cx="216.1" cy="726.4" r="2.5" fill="#1f77b4"/>
<circle cx="229.3" cy="728.3" r="2.5" fill="#1f77b4"/>
<circle cx="242.5" cy="710.2" r="2.5" fill="#1f77b4"/>
<circle cx="255.7" cy="747.5" r="2.5" fill="#1f77b4"/>
<circle cx="268.9" cy="712.9" r="2.5" fill="#1f77b4"/>
<circle cx="282.1" cy="745.45" r="2.5" fill="#1f77b4"/>
<circle cx="295.3" cy="733.6" r="2.5" fill="#1f77b4"/>
<circle cx="308.5" cy="724.6" r="2.5" fill="#1f77b4"/>
<circle cx="321.7" cy="749.4" r="2.5" fill="#1f77b4"/>
<circle cx="334.9" cy="715.3" r="2.5" fill="#1f77b4"/>
<circle cx="348.1" cy="753.8" r="2.5" fill="#1f77b4"/>
<circle cx="361.3" cy="717.6" r="2.5" fill="#1f77b4"/>
<path d="M163.3 580.3 L176.5 580.5 L189.7 580.6 L202.9 580.3 L216.1 580.4 L229.3 580.6 L242.5 580.6 L255.7 579.9 L268.9 579.3 L282.1 578.75 L295.3 578.4 L308.5 578.5 L321.7 578.5 L334.9 578.5 L348.1 578.5 L361.3 578.4" fill="none" stroke="#2ca02c" stroke-width="1.3" stroke-dasharray="3.85 1.45"/>
<polygon points="163.3,577.65 160.8,582.8 165.8,582.8" fill="#2ca02c" stroke="#2ca02c" stroke-width="0.8" stroke-linejoin="miter"/>
<polygon points="176.5,577.85 174,583 179,583" fill="#2ca02c" stroke="#2ca02c" stroke-width="0.8" stroke-linejoin="miter"/>
<polygon points="189.7,577.95 187.2,583.1 192.2,583.1" fill="#2ca02c" stroke="#2ca02c" stroke-width="0.8" stroke-linejoin="miter"/>
<polygon points="202.9,577.65 200.4,582.8 205.4,582.8" fill="#2ca02c" stroke="#2ca02c" stroke-width="0.8" stroke-linejoin="miter"/>
<polygon points="216.1,577.75 213.6,582.9 218.6,582.9" fill="#2ca02c" stroke="#2ca02c" stroke-width="0.8" stroke-linejoin="miter"/>
<polygon points="229.3,577.95 226.8,583.1 231.8,583.1" fill="#2ca02c" stroke="#2ca02c" stroke-width="0.8" stroke-linejoin="miter"/>
<polygon points="242.5,577.95 240,583.1 245,583.1" fill="#2ca02c" stroke="#2ca02c" stroke-width="0.8" stroke-linejoin="miter"/>
<polygon points="255.7,577.25 253.2,582.4 258.2,582.4" fill="#2ca02c" stroke="#2ca02c" stroke-width="0.8" stroke-linejoin="miter"/>
<polygon points="268.9,576.65 266.4,581.8 271.4,581.8" fill="#2ca02c" stroke="#2ca02c" stroke-width="0.8" stroke-linejoin="miter"/>
<polygon points="282.1,576.1 279.6,581.25 284.6,581.25" fill="#2ca02c" stroke="#2ca02c" stroke-width="0.8" stroke-linejoin="miter"/>
<polygon points="295.3,575.75 292.8,580.9 297.8,580.9" fill="#2ca02c" stroke="#2ca02c" stroke-width="0.8" stroke-linejoin="miter"/>
<polygon points="308.5,575.85 306,581 311,581" fill="#2ca02c" stroke="#2ca02c" stroke-width="0.8" stroke-linejoin="miter"/>
<polygon points="321.7,575.85 319.2,581 324.2,581" fill="#2ca02c" stroke="#2ca02c" stroke-width="0.8" stroke-linejoin="miter"/>
<polygon points="334.9,575.85 332.4,581 337.4,581" fill="#2ca02c" stroke="#2ca02c" stroke-width="0.8" stroke-linejoin="miter"/>
<polygon points="348.1,575.85 345.6,581 350.6,581" fill="#2ca02c" stroke="#2ca02c" stroke-width="0.8" stroke-linejoin="miter"/>
<polygon points="361.3,575.75 358.8,580.9 363.8,580.9" fill="#2ca02c" stroke="#2ca02c" stroke-width="0.8" stroke-linejoin="miter"/>
<path d="M163.3 762.5v2.6M216.1 762.5v2.6M268.9 762.5v2.6M321.7 762.5v2.6M153.1 571h-2.6M153.1 596.21h-2.6M153.1 621.42h-2.6M153.1 646.63h-2.6M153.1 671.84h-2.6M153.1 697.05h-2.6M153.1 722.26h-2.6M153.1 747.47h-2.6M371.5 604.1h2.6M371.5 643.18h2.6M371.5 682.26h2.6M371.5 721.34h2.6M371.5 760.42h2.6" fill="none" stroke="#000" stroke-width="0.95"/>
<rect x="153.1" y="569.5" width="218.4" height="193" fill="none" stroke="#000" stroke-width="0.95"/>
<rect x="286.7" y="574.3" width="79.5" height="32.65" rx="2" ry="2" fill="#fff" fill-opacity="0.8" stroke="#ccc" stroke-opacity="0.8" stroke-width="0.9"/>
<path d="M290.7 582.5 H311.1" fill="none" stroke="#1f77b4" stroke-width="1.3" stroke-dasharray="3.85 1.45"/>
<circle cx="300.9" cy="582.5" r="2.5" fill="#1f77b4"/>
<text x="319" y="586.5" font-size="10.1">N atom</text>
<path d="M290.7 597.35 H311.1" fill="none" stroke="#2ca02c" stroke-width="1.3" stroke-dasharray="3.85 1.45"/>
<polygon points="300.9,594.7 298.4,599.85 303.4,599.85" fill="#2ca02c" stroke="#2ca02c" stroke-width="0.8" stroke-linejoin="miter"/>
<text x="319" y="601.35" font-size="10.1">Ga atom</text>
<path d="M163.3 753.8 L176.5 747.5 L189.7 730.9 L202.9 701.2 L216.1 669.9 L229.3 633.2 L242.5 607.6 L255.7 585.9 L268.9 578.4 L282.1 584.4 L295.3 601.7 L308.5 631.3 L321.7 661.4 L334.9 698.6 L348.1 725.35 L361.3 748.1" fill="none" stroke="#ff7f0e" stroke-width="1.3" stroke-dasharray="3.85 1.45"/>
<rect x="160.55" y="751.05" width="5.5" height="5.5" fill="#ff7f0e"/>
<rect x="173.75" y="744.75" width="5.5" height="5.5" fill="#ff7f0e"/>
<rect x="186.95" y="728.15" width="5.5" height="5.5" fill="#ff7f0e"/>
<rect x="200.15" y="698.45" width="5.5" height="5.5" fill="#ff7f0e"/>
<rect x="213.35" y="667.15" width="5.5" height="5.5" fill="#ff7f0e"/>
<rect x="226.55" y="630.45" width="5.5" height="5.5" fill="#ff7f0e"/>
<rect x="239.75" y="604.85" width="5.5" height="5.5" fill="#ff7f0e"/>
<rect x="252.95" y="583.15" width="5.5" height="5.5" fill="#ff7f0e"/>
<rect x="266.15" y="575.65" width="5.5" height="5.5" fill="#ff7f0e"/>
<rect x="279.35" y="581.65" width="5.5" height="5.5" fill="#ff7f0e"/>
<rect x="292.55" y="598.95" width="5.5" height="5.5" fill="#ff7f0e"/>
<rect x="305.75" y="628.55" width="5.5" height="5.5" fill="#ff7f0e"/>
<rect x="318.95" y="658.65" width="5.5" height="5.5" fill="#ff7f0e"/>
<rect x="332.15" y="695.85" width="5.5" height="5.5" fill="#ff7f0e"/>
<rect x="345.35" y="722.6" width="5.5" height="5.5" fill="#ff7f0e"/>
<rect x="358.55" y="745.35" width="5.5" height="5.5" fill="#ff7f0e"/>
<g text-anchor="middle" font-size="10">
<text x="163.3" y="775.1">0</text>
<text x="216.1" y="775.1">2</text>
<text x="268.9" y="775.1">4</text>
<text x="321.7" y="775.1">6</text>
</g><g text-anchor="end" font-size="10">
<text x="147.7" y="574.8">−0.75</text>
<text x="147.7" y="600.01">−1.00</text>
<text x="147.7" y="625.22">−1.25</text>
<text x="147.7" y="650.43">−1.50</text>
<text x="147.7" y="675.64">−1.75</text>
<text x="147.7" y="700.85">−2.00</text>
<text x="147.7" y="726.06">−2.25</text>
<text x="147.7" y="751.27">−2.50</text>
</g><g font-size="10">
<text x="376.7" y="608.7">0.04</text>
<text x="376.7" y="647.78">0.03</text>
<text x="376.7" y="686.86">0.02</text>
<text x="376.7" y="725.94">0.01</text>
<text x="376.7" y="765.02">0.00</text>
</g>
<text x="262.3" y="789.9" text-anchor="middle" font-size="10.13">X position (<tspan font-style="italic">Å</tspan>)</text>
<text transform="translate(107 661.5) rotate(-90)" text-anchor="middle" font-size="10.25">Adsorption Energy (eV)</text>
<text transform="translate(410 666.5) rotate(-90)" text-anchor="middle" class="or" font-size="10.15" fill="#ff7f0e">Electrostatic Potential 3 <tspan font-style="italic">Å</tspan> from surface (eV)</text>
</g>
<g class="mp">
<path d="M527.8 741 L540.66 713.6 L553.52 745.45 L566.38 702.7 L579.24 726.2 L592.1 733.25 L604.96 716.4 L617.82 753.1 L630.68 713 L643.54 743.9 L656.4 733.9 L669.26 725.95 L682.12 754.4 L694.98 754.4 L707.84 754.4 L720.7 719.05" fill="none" stroke="#1f77b4" stroke-width="1.3" stroke-dasharray="3.85 1.45"/>
<circle cx="527.8" cy="741" r="2.5" fill="#1f77b4"/>
<circle cx="540.66" cy="713.6" r="2.5" fill="#1f77b4"/>
<circle cx="553.52" cy="745.45" r="2.5" fill="#1f77b4"/>
<circle cx="566.38" cy="702.7" r="2.5" fill="#1f77b4"/>
<circle cx="579.24" cy="726.2" r="2.5" fill="#1f77b4"/>
<circle cx="592.1" cy="733.25" r="2.5" fill="#1f77b4"/>
<circle cx="604.96" cy="716.4" r="2.5" fill="#1f77b4"/>
<circle cx="617.82" cy="753.1" r="2.5" fill="#1f77b4"/>
<circle cx="630.68" cy="713" r="2.5" fill="#1f77b4"/>
<circle cx="643.54" cy="743.9" r="2.5" fill="#1f77b4"/>
<circle cx="656.4" cy="733.9" r="2.5" fill="#1f77b4"/>
<circle cx="669.26" cy="725.95" r="2.5" fill="#1f77b4"/>
<circle cx="682.12" cy="754.4" r="2.5" fill="#1f77b4"/>
<circle cx="694.98" cy="754.4" r="2.5" fill="#1f77b4"/>
<circle cx="707.84" cy="754.4" r="2.5" fill="#1f77b4"/>
<circle cx="720.7" cy="719.05" r="2.5" fill="#1f77b4"/>
<path d="M527.8 579.3 L540.66 579.4 L553.52 579.4 L566.38 578.8 L579.24 579 L592.1 579.6 L604.96 579.6 L617.82 579.3 L630.68 578.4 L643.54 576.9 L656.4 576.7 L669.26 576.7 L682.12 576.7 L694.98 576.7 L707.84 576.7 L720.7 576.7" fill="none" stroke="#2ca02c" stroke-width="1.3" stroke-dasharray="3.85 1.45"/>
<polygon points="527.8,576.65 525.3,581.8 530.3,581.8" fill="#2ca02c" stroke="#2ca02c" stroke-width="0.8" stroke-linejoin="miter"/>
<polygon points="540.66,576.75 538.16,581.9 543.16,581.9" fill="#2ca02c" stroke="#2ca02c" stroke-width="0.8" stroke-linejoin="miter"/>
<polygon points="553.52,576.75 551.02,581.9 556.02,581.9" fill="#2ca02c" stroke="#2ca02c" stroke-width="0.8" stroke-linejoin="miter"/>
<polygon points="566.38,576.15 563.88,581.3 568.88,581.3" fill="#2ca02c" stroke="#2ca02c" stroke-width="0.8" stroke-linejoin="miter"/>
<polygon points="579.24,576.35 576.74,581.5 581.74,581.5" fill="#2ca02c" stroke="#2ca02c" stroke-width="0.8" stroke-linejoin="miter"/>
<polygon points="592.1,576.95 589.6,582.1 594.6,582.1" fill="#2ca02c" stroke="#2ca02c" stroke-width="0.8" stroke-linejoin="miter"/>
<polygon points="604.96,576.95 602.46,582.1 607.46,582.1" fill="#2ca02c" stroke="#2ca02c" stroke-width="0.8" stroke-linejoin="miter"/>
<polygon points="617.82,576.65 615.32,581.8 620.32,581.8" fill="#2ca02c" stroke="#2ca02c" stroke-width="0.8" stroke-linejoin="miter"/>
<polygon points="630.68,575.75 628.18,580.9 633.18,580.9" fill="#2ca02c" stroke="#2ca02c" stroke-width="0.8" stroke-linejoin="miter"/>
<polygon points="643.54,574.25 641.04,579.4 646.04,579.4" fill="#2ca02c" stroke="#2ca02c" stroke-width="0.8" stroke-linejoin="miter"/>
<polygon points="656.4,574.05 653.9,579.2 658.9,579.2" fill="#2ca02c" stroke="#2ca02c" stroke-width="0.8" stroke-linejoin="miter"/>
<polygon points="669.26,574.05 666.76,579.2 671.76,579.2" fill="#2ca02c" stroke="#2ca02c" stroke-width="0.8" stroke-linejoin="miter"/>
<polygon points="682.12,574.05 679.62,579.2 684.62,579.2" fill="#2ca02c" stroke="#2ca02c" stroke-width="0.8" stroke-linejoin="miter"/>
<polygon points="694.98,574.05 692.48,579.2 697.48,579.2" fill="#2ca02c" stroke="#2ca02c" stroke-width="0.8" stroke-linejoin="miter"/>
<polygon points="707.84,574.05 705.34,579.2 710.34,579.2" fill="#2ca02c" stroke="#2ca02c" stroke-width="0.8" stroke-linejoin="miter"/>
<polygon points="720.7,574.05 718.2,579.2 723.2,579.2" fill="#2ca02c" stroke="#2ca02c" stroke-width="0.8" stroke-linejoin="miter"/>
<path d="M527.8 763.4v2.6M579.24 763.4v2.6M630.68 763.4v2.6M682.12 763.4v2.6M518.45 571.7h-2.6M518.45 598.56h-2.6M518.45 625.42h-2.6M518.45 652.28h-2.6M518.45 679.14h-2.6M518.45 706h-2.6M518.45 732.86h-2.6M518.45 759.72h-2.6M730.5 585.7h2.6M730.5 628.32h2.6M730.5 670.94h2.6M730.5 713.56h2.6M730.5 756.18h2.6" fill="none" stroke="#000" stroke-width="0.95"/>
<rect x="518.45" y="567.5" width="212.05" height="195.9" fill="none" stroke="#000" stroke-width="0.95"/>
<rect x="645.6" y="572.7" width="79.5" height="32.65" rx="2" ry="2" fill="#fff" fill-opacity="0.8" stroke="#ccc" stroke-opacity="0.8" stroke-width="0.9"/>
<path d="M649.6 580.9 H670" fill="none" stroke="#1f77b4" stroke-width="1.3" stroke-dasharray="3.85 1.45"/>
<circle cx="659.8" cy="580.9" r="2.5" fill="#1f77b4"/>
<text x="677.9" y="584.9" font-size="10.1">N atom</text>
<path d="M649.6 595.75 H670" fill="none" stroke="#2ca02c" stroke-width="1.3" stroke-dasharray="3.85 1.45"/>
<polygon points="659.8,593.1 657.3,598.25 662.3,598.25" fill="#2ca02c" stroke="#2ca02c" stroke-width="0.8" stroke-linejoin="miter"/>
<text x="677.9" y="599.75" font-size="10.1">Ga atom</text>
<path d="M527.8 754.4 L540.66 746.2 L553.52 735.65 L566.38 706.5 L579.24 674 L592.1 645.25 L604.96 618.3 L617.82 585.7 L630.68 576.7 L643.54 584.4 L656.4 605.5 L669.26 633.5 L682.12 657.65 L694.98 691.45 L707.84 722.95 L720.7 741.4" fill="none" stroke="#ff7f0e" stroke-width="1.3" stroke-dasharray="3.85 1.45"/>
<rect x="525.05" y="751.65" width="5.5" height="5.5" fill="#ff7f0e"/>
<rect x="537.91" y="743.45" width="5.5" height="5.5" fill="#ff7f0e"/>
<rect x="550.77" y="732.9" width="5.5" height="5.5" fill="#ff7f0e"/>
<rect x="563.63" y="703.75" width="5.5" height="5.5" fill="#ff7f0e"/>
<rect x="576.49" y="671.25" width="5.5" height="5.5" fill="#ff7f0e"/>
<rect x="589.35" y="642.5" width="5.5" height="5.5" fill="#ff7f0e"/>
<rect x="602.21" y="615.55" width="5.5" height="5.5" fill="#ff7f0e"/>
<rect x="615.07" y="582.95" width="5.5" height="5.5" fill="#ff7f0e"/>
<rect x="627.93" y="573.95" width="5.5" height="5.5" fill="#ff7f0e"/>
<rect x="640.79" y="581.65" width="5.5" height="5.5" fill="#ff7f0e"/>
<rect x="653.65" y="602.75" width="5.5" height="5.5" fill="#ff7f0e"/>
<rect x="666.51" y="630.75" width="5.5" height="5.5" fill="#ff7f0e"/>
<rect x="679.37" y="654.9" width="5.5" height="5.5" fill="#ff7f0e"/>
<rect x="692.23" y="688.7" width="5.5" height="5.5" fill="#ff7f0e"/>
<rect x="705.09" y="720.2" width="5.5" height="5.5" fill="#ff7f0e"/>
<rect x="717.95" y="738.65" width="5.5" height="5.5" fill="#ff7f0e"/>
<g text-anchor="middle" font-size="10">
<text x="527.8" y="776">0</text>
<text x="579.24" y="776">2</text>
<text x="630.68" y="776">4</text>
<text x="682.12" y="776">6</text>
</g><g text-anchor="end" font-size="10">
<text x="513.05" y="575.5">−0.75</text>
<text x="513.05" y="602.36">−1.00</text>
<text x="513.05" y="629.22">−1.25</text>
<text x="513.05" y="656.08">−1.50</text>
<text x="513.05" y="682.94">−1.75</text>
<text x="513.05" y="709.8">−2.00</text>
<text x="513.05" y="736.66">−2.25</text>
<text x="513.05" y="763.52">−2.50</text>
</g><g font-size="10">
<text x="735.3" y="590.3">0.020</text>
<text x="735.3" y="632.92">0.015</text>
<text x="735.3" y="675.54">0.010</text>
<text x="735.3" y="718.16">0.005</text>
<text x="735.3" y="760.78">0.000</text>
</g>
<text x="624.3" y="790.4" text-anchor="middle" font-size="10.13">X position (<tspan font-style="italic">Å</tspan>)</text>
<text transform="translate(474.3 665.8) rotate(-90)" text-anchor="middle" font-size="10.25">Adsorption Energy (eV)</text>
<text transform="translate(776.35 666.4) rotate(-90)" text-anchor="middle" class="or" font-size="10.15" fill="#ff7f0e">Electrostatic Potential 3 <tspan font-style="italic">Å</tspan> from surface (eV)</text>
</g>
</svg>
</body>
</html>
